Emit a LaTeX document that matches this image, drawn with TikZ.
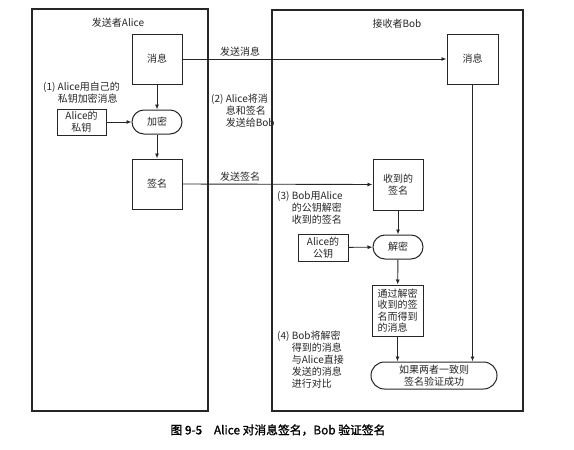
\documentclass[tikz,border=0pt]{standalone}
\usepackage{fontspec}
\setmainfont{Noto Sans CJK SC}
\newfontfamily\capfont{Noto Sans CJK SC}[FakeBold=1.2]
\usetikzlibrary{arrows.meta}
\begin{document}
\begin{tikzpicture}[x=1pt,y=-1pt,
  every node/.style={text=black!85,font=\fontsize{10}{12}\selectfont},
  frame/.style={draw=black!85,line width=1.1pt},
  box/.style={draw=black!85,line width=1pt,inner sep=0pt,minimum width=50pt,minimum height=50pt,align=center},
  keybox/.style={box,minimum width=49pt,minimum height=26pt},
  stadium/.style={draw=black!85,line width=1pt,inner sep=0pt,rounded corners=12pt,minimum width=50pt,minimum height=24pt,align=center},
  note/.style={inner sep=0pt,anchor=north west},
  arr/.style={draw=black!85,line width=0.9pt,-{Latex[length=5pt,width=4pt]}}
]
\useasboundingbox (0,0) rectangle (574,450);
% frames
\draw[frame] (32,9) rectangle (208,411);
\draw[frame] (272,10) rectangle (523,411);
\node (talice) at (118,23) {发送者Alice};
\node (tbob) at (397,24) {接收者Bob};
% Alice side
\node[box] (amsg) at (157,59) {消息};
\node[keybox] (akey) at (81.5,122) {Alice的\\私钥};
\node[stadium] (enc) at (157,122) {加密};
\node[box] (asig) at (157,184) {签名};
% Bob side
\node[box,minimum width=51pt] (bmsg) at (472.5,59) {消息};
\node[box,minimum height=51pt] (rsig) at (398,184.5) {收到的\\签名};
\node[keybox,minimum width=50pt,minimum height=27pt] (bkey) at (323,247.5) {Alice的\\公钥};
\node[stadium] (dec) at (398,247) {解密};
\node[box,minimum width=51pt,minimum height=51pt,align=left,font=\fontsize{10}{11.5}\selectfont] (dmsg) at (397.5,310.5) {通过解密\\收到的签\\名而得到\\的消息};
\node[stadium,rounded corners=13.5pt,minimum width=126pt,minimum height=27pt] (res) at (434,375.5) {如果两者一致则\\签名验证成功};
% arrows
\draw[arr] (amsg) -- (enc);
\draw[arr] (akey) -- (enc);
\draw[arr] (enc) -- (asig);
\draw[arr] (amsg.east) -- (bmsg.west);
\draw[arr] (asig.east) -- (rsig.west);
\draw[arr] (rsig) -- (dec);
\draw[arr] (bkey) -- (dec);
\draw[arr] (dec) -- (dmsg);
\draw[arr] (dmsg.south) -- (dmsg.south |- res.north);
\draw[arr] (bmsg.south) -- (bmsg.south |- res.north);
% labels
\node (lsendmsg) at (240,52) {发送消息};
\node (lsendsig) at (240,177) {发送签名};
\node[note] (n1) at (43,82) {\begin{tabular}{@{}l@{\ }l@{}}(1) & Alice用自己的\\ & 私钥加密消息\end{tabular}};
\node[note] (n2) at (211,93.5) {\begin{tabular}{@{}l@{\ }l@{}}(2) & Alice将消\\ & 息和签名\\ & 发送给Bob\end{tabular}};
\node[note] (n3) at (277,190.5) {\begin{tabular}{@{}l@{\ }l@{}}(3) & Bob用Alice\\ & 的公钥解密\\ & 收到的签名\end{tabular}};
\node[note] (n4) at (277,330.5) {\begin{tabular}{@{}l@{\ }l@{}}(4) & Bob将解密\\ & 得到的消息\\ & 与Alice直接\\ & 发送的消息\\ & 进行对比\end{tabular}};
\node[font=\capfont\fontsize{11.8}{13}\selectfont,text=black] (cap) at (278,430) {图 9-5\quad Alice 对消息签名，Bob 验证签名};
\end{tikzpicture}
\end{document}
